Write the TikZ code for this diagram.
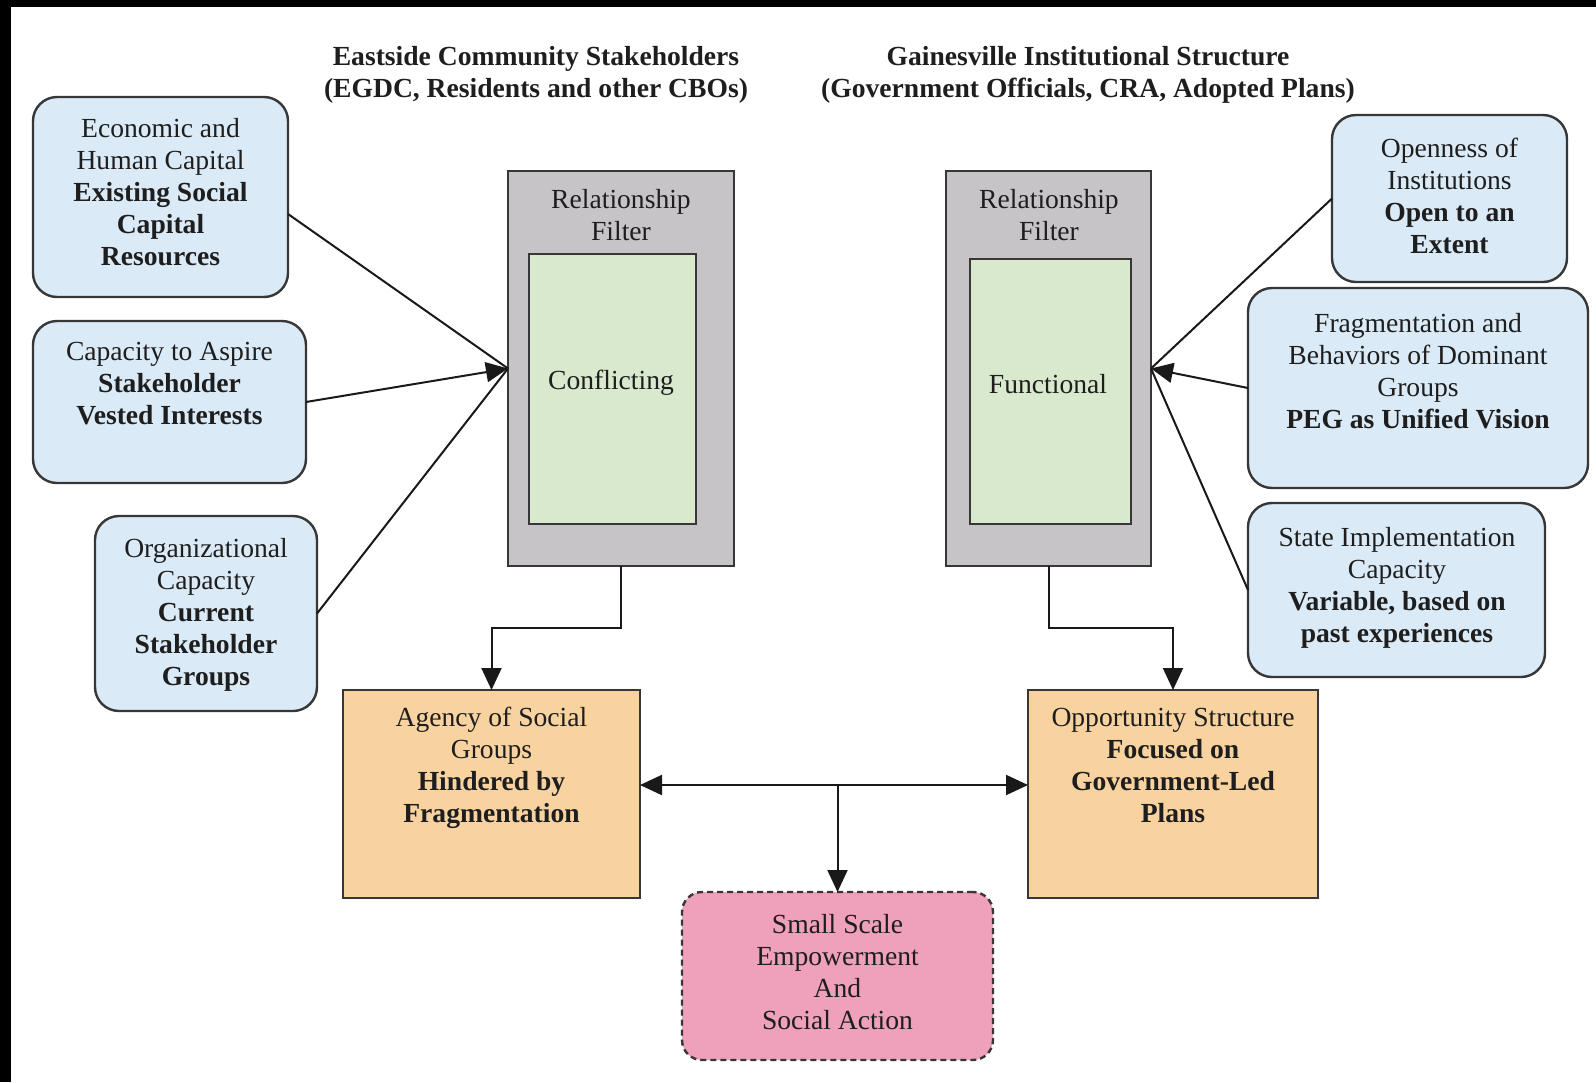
\documentclass[tikz,border=0pt]{standalone}
\usepackage{fontspec}
\setmainfont{Liberation Serif}
\usetikzlibrary{arrows.meta,calc}
\definecolor{bluefill}{RGB}{219,234,247}
\definecolor{greenfill}{RGB}{216,233,206}
\definecolor{grayfill}{RGB}{198,196,198}
\definecolor{orangefill}{RGB}{248,211,160}
\definecolor{pinkfill}{RGB}{239,160,186}
\definecolor{bordercol}{RGB}{55,55,55}
\definecolor{textcol}{RGB}{30,30,30}
\definecolor{linecol}{RGB}{25,25,25}
\newcommand\dfs{\fontsize{13.8pt}{16pt}\selectfont}
\begin{document}
\begin{tikzpicture}[x=0.5pt,y=-0.5pt,
  box/.style={draw=bordercol,line width=1.2pt,inner sep=0pt,outer sep=0pt},
  rbox/.style={box,rounded corners=12pt},
  txt/.style={align=center,font=\dfs,inner sep=0pt,text=textcol,yshift=-1.5pt,
    execute at begin node=\strut,execute at end node=\strut},
  conn/.style={line width=1pt,draw=linecol},
  tip/.style={-{Triangle[length=11pt,width=10pt]}},
  dtip/.style={{Triangle[length=11pt,width=10pt]}-{Triangle[length=11pt,width=10pt]}}
]
\useasboundingbox (0,0) rectangle (1596,1082);
\fill[white] (0,0) rectangle (1596,1082);
\fill[black] (0,0) rectangle (1596,7);
\fill[black] (0,0) rectangle (11,1082);

% titles
\node[txt,font=\dfs\bfseries] (titleL) at (536,74) {Eastside Community Stakeholders\\(EGDC, Residents and other CBOs)};
\node[txt,font=\dfs\bfseries] (titleR) at (1088,74) {Gainesville Institutional Structure\\(Government Officials, CRA, Adopted Plans)};

% left input boxes
\node[rbox,fill=bluefill,minimum width=127.5pt,minimum height=100pt] (econ) at (160.5,197) {};
\node[txt] (econT) at (160.5,194) {Economic and\\Human Capital\\\textbf{Existing Social}\\\textbf{Capital}\\\textbf{Resources}};
\node[rbox,fill=bluefill,minimum width=136.5pt,minimum height=81pt] (aspire) at (169.5,402) {};
\node[txt] (aspireT) at (169.5,385) {Capacity to Aspire\\\textbf{Stakeholder}\\\textbf{Vested Interests}};
\node[rbox,fill=bluefill,minimum width=111pt,minimum height=97.5pt] (orgc) at (206,613.5) {};
\node[txt] (orgcT) at (206,614) {Organizational\\Capacity\\\textbf{Current}\\\textbf{Stakeholder}\\\textbf{Groups}};

% filters
\node[box,fill=grayfill,minimum width=113pt,minimum height=197.5pt] (filterL) at (621,368.5) {};
\node[txt] (filterLT) at (621,216.5) {Relationship\\Filter};
\node[box,fill=greenfill,minimum width=83.5pt,minimum height=135pt] (greenL) at (612.5,389) {};
\node[txt] (greenLT) at (611,380) {Conflicting};

\node[box,fill=grayfill,minimum width=102.5pt,minimum height=197.5pt] (filterR) at (1048.5,368.5) {};
\node[txt] (filterRT) at (1049,216.5) {Relationship\\Filter};
\node[box,fill=greenfill,minimum width=80.5pt,minimum height=132.5pt] (greenR) at (1050.5,391.5) {};
\node[txt] (greenRT) at (1048,384) {Functional};

% right input boxes
\node[rbox,fill=bluefill,minimum width=117.5pt,minimum height=83.5pt] (open) at (1449.5,198.5) {};
\node[txt] (openT) at (1449.5,198) {Openness of\\Institutions\\\textbf{Open to an}\\\textbf{Extent}};
\node[rbox,fill=bluefill,minimum width=170pt,minimum height=100pt] (frag) at (1418,388) {};
\node[txt] (fragT) at (1418,372.5) {Fragmentation and\\Behaviors of Dominant\\Groups\\\textbf{PEG as Unified Vision}};
\node[rbox,fill=bluefill,minimum width=148.5pt,minimum height=87pt] (state) at (1396.5,590) {};
\node[txt] (stateT) at (1397,587) {State Implementation\\Capacity\\\textbf{Variable, based on}\\\textbf{past experiences}};

% outcome boxes
\node[box,fill=orangefill,minimum width=148.5pt,minimum height=104pt] (agency) at (491.5,794) {};
\node[txt] (agencyT) at (491.5,767) {Agency of Social\\Groups\\\textbf{Hindered by}\\\textbf{Fragmentation}};
\node[box,fill=orangefill,minimum width=145pt,minimum height=104pt] (opport) at (1173,794) {};
\node[txt] (opportT) at (1173,767) {Opportunity Structure\\\textbf{Focused on}\\\textbf{Government-Led}\\\textbf{Plans}};
\node[box,fill=pinkfill,rounded corners=10pt,dash pattern=on 3pt off 2pt,minimum width=155.5pt,minimum height=84pt] (pink) at (837.5,976) {};
\node[txt] (pinkT) at (837.5,974) {Small Scale\\Empowerment\\And\\Social Action};

% connectors into filters
\draw[conn] ([yshift=-8.5pt]econ.east) -- (filterL.west);
\draw[conn,tip] (aspire.east) -- (filterL.west);
\draw[conn] (orgc.east) -- (filterL.west);
\draw[conn] (open.west) -- (filterR.east);
\draw[conn,tip] (frag.west) -- (filterR.east);
\draw[conn] (state.west) -- (filterR.east);

% filters to outcomes
\draw[conn,tip] (filterL.south) -- ++(0,62) -| (agency.north);
\draw[conn,tip] (filterR.south) -- ++(0,62) -| (opport.north);

% interaction
\coordinate (hub) at (837.5,785);
\draw[conn,dtip] ([yshift=4.5pt]agency.east) -- ([yshift=4.5pt]opport.west);
\draw[conn,tip] (hub) -- (pink.north);
\end{tikzpicture}
\end{document}
